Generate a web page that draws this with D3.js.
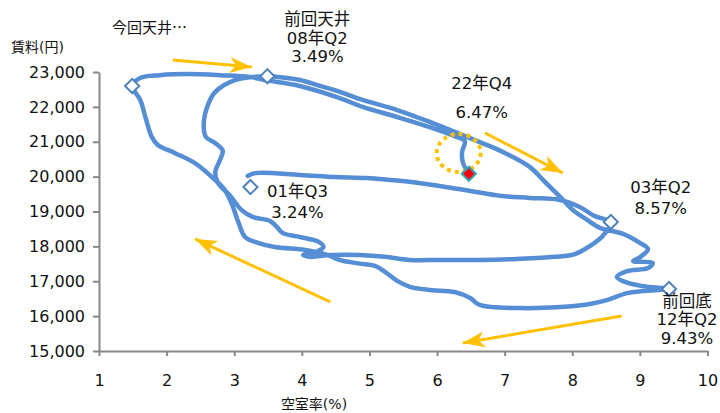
<!DOCTYPE html>
<html lang="ja">
<head>
<meta charset="utf-8">
<script src="https://d3js.org/d3.v7.min.js"></script>
<style>
body { margin: 0; background: #fff; }
svg text { font-family: "DejaVu Sans", "Noto Sans CJK JP", sans-serif; fill: #111; }
.axis path, .axis line { stroke: #888; stroke-width: 2; fill: none; }
.axis text { font-size: 16px; }
</style>
</head>
<body>
<svg id="chart" width="720" height="413"></svg>
<script>
// vacancy rate (%) and rent (yen/tsubo), quarterly from 01Q3 to 22Q4
var vac = [
  3.20, 3.31, 3.97, 4.49, 4.96, 5.45, 5.94, 6.49, 6.93, 7.37, 7.82, 8.11, 8.33, 8.57,
  8.45, 8.26, 8.04, 7.74, 7.18, 6.63, 6.04, 5.60, 5.23, 4.86, 4.42, 4.12, 4.02, 4.24,
  4.32, 4.25, 3.97, 3.72, 3.63, 3.53, 3.28, 3.11, 2.94, 2.76, 2.72, 2.79, 2.83, 2.72,
  2.58, 2.55, 2.61, 2.72, 3.01, 3.49,
  3.63, 3.97, 4.27, 4.52, 4.90, 5.41, 5.89, 6.34, 6.63, 6.97, 7.37, 7.57, 7.82, 8.01,
  8.22, 8.41, 8.75, 9.00, 9.12, 9.00, 8.90, 9.19, 9.12, 8.81, 8.66, 8.78, 9.04, 9.43,
  9.04, 8.81, 8.51, 8.26, 7.82, 7.23, 6.63, 6.49, 6.26, 5.89, 5.60, 5.41, 5.23, 5.08,
  4.81, 4.56, 4.34, 4.05, 3.60, 3.35, 3.16, 3.06, 2.97, 2.86, 2.67, 2.42, 2.12, 1.87,
  1.78, 1.69, 1.61, 1.49,
  1.61, 1.90, 2.30, 2.79, 3.23, 3.45, 3.97, 4.52, 4.90, 5.41, 5.89, 6.26, 6.41, 6.37,
  6.38, 6.47
];
var rent = [
  20020, 20100, 20050, 19990, 19960, 19880, 19760, 19590, 19450, 19390, 19330, 19130, 18870, 18680,
  18300, 18010, 17780, 17700, 17640, 17610, 17610, 17610, 17700, 17750, 17750, 17700, 17750, 17870,
  17980, 18130, 18270, 18380, 18560, 18730, 18840, 19040, 19450, 19820, 20130, 20480, 20740, 20960,
  21140, 21540, 22050, 22430, 22770, 22880,
  22860, 22770, 22600, 22460, 22200, 21910, 21570, 21220, 20990, 20710, 20280, 19900, 19420, 19040,
  18760, 18530, 18360, 18100, 17920, 17690, 17580, 17520, 17380, 17290, 17120, 16980, 16860, 16780,
  16720, 16660, 16460, 16350, 16260, 16230, 16320, 16520, 16690, 16750, 16840, 17010, 17270, 17440,
  17520, 17610, 17780, 17900, 17980, 18100, 18270, 18700, 19190, 19620, 19990, 20390, 20680, 20910,
  21140, 21680, 22200, 22600,
  22830, 22910, 22940, 22910, 22860, 22770, 22600, 22280, 22000, 21710, 21420, 21160, 21020, 20710,
  20420, 20080
];

// highlighted turning points
var markVac  = [1.49, 3.49, 3.24, 8.57, 9.43];
var markRent = [22600, 22880, 19700, 18700, 16780];
var markText = [[], ["前回天井", "08年Q2", "3.49%"], ["01年Q3", "3.24%"], ["03年Q2", "8.57%"], ["前回底", "12年Q2", "9.43%"]];
var lastText = ["22年Q4", "6.47%"];

var xTicks = [1, 2, 3, 4, 5, 6, 7, 8, 9, 10];
var yTicks = [15000, 16000, 17000, 18000, 19000, 20000, 21000, 22000, 23000];

// orange arrows (from vac/rent to vac/rent)
var arrowFrom = [[2.09, 23344], [6.71, 21251], [4.42, 16406], [8.73, 16004]];
var arrowTo   = [[3.26, 23143], [7.86, 20104], [2.42, 18212], [6.38, 15230]];

var svg = d3.select("#chart");

var x = d3.scaleLinear().domain([1, 10]).range([99, 707.5]);
var y = d3.scaleLinear().domain([15000, 23000]).range([351, 72]);

// axes
svg.append("g")
    .attr("class", "axis")
    .attr("transform", "translate(0," + y(15000) + ")")
    .call(d3.axisBottom(x).tickValues(xTicks).tickSize(5).tickSizeOuter(0).tickPadding(19).tickFormat(d3.format("d")));

svg.append("g")
    .attr("class", "axis")
    .attr("transform", "translate(" + x(1) + ",0)")
    .call(d3.axisLeft(y).tickValues(yTicks).tickSize(6).tickSizeOuter(0).tickPadding(8).tickFormat(d3.format(",")));

svg.selectAll(".axis text").style("fill", "#111");

svg.append("text").attr("x", 11).attr("y", 52).style("font-size", "14px").text("賃料(円)");
svg.append("text").attr("x", 314).attr("y", 409).attr("text-anchor", "middle").style("font-size", "14px").text("空室率(%)");
svg.append("text").attr("x", 112).attr("y", 33)
    .style("font-size", "15px")
    .style("font-family", "'Noto Sans CJK JP', sans-serif")
    .text("今回天井…");

// arrow head
svg.append("defs").append("marker")
    .attr("id", "ah")
    .attr("markerUnits", "userSpaceOnUse")
    .attr("markerWidth", 24).attr("markerHeight", 16)
    .attr("refX", 22).attr("refY", 8)
    .attr("orient", "auto")
    .append("path")
    .attr("d", "M0,0 L22,8 L0,16 L6,8 Z")
    .attr("fill", "#FFC000");

svg.selectAll(".arrow")
    .data(arrowFrom)
    .enter()
    .append("line")
    .attr("class", "arrow")
    .attr("x1", function(d) { return x(d[0]); })
    .attr("y1", function(d) { return y(d[1]); })
    .attr("x2", function(d, i) { return x(arrowTo[i][0]); })
    .attr("y2", function(d, i) { return y(arrowTo[i][1]); })
    .attr("stroke", "#FFC000")
    .attr("stroke-width", 3)
    .attr("marker-end", "url(#ah)");

// the path itself
var pts = vac.map(function(v, i) { return [x(v), y(rent[i])]; });
var line = d3.line().curve(d3.curveCatmullRom.alpha(0.5));

svg.append("path")
    .attr("d", line(pts))
    .attr("fill", "none")
    .attr("stroke", "#558ED5")
    .attr("stroke-width", 4.5)
    .attr("stroke-linejoin", "round")
    .attr("stroke-linecap", "round");

// dotted circle around the latest point
svg.append("ellipse")
    .attr("cx", x(6.32)).attr("cy", y(20678))
    .attr("rx", 22).attr("ry", 19)
    .attr("fill", "none")
    .attr("stroke", "#FFC000")
    .attr("stroke-width", 4)
    .attr("stroke-dasharray", "4 4");

// white diamonds
svg.selectAll(".mk")
    .data(markVac)
    .enter()
    .append("rect")
    .attr("class", "mk")
    .attr("x", -5).attr("y", -5)
    .attr("width", 10).attr("height", 10)
    .attr("transform", function(d, i) { return "translate(" + x(d) + "," + y(markRent[i]) + ") rotate(45)"; })
    .attr("fill", "#fff")
    .attr("stroke", "#4F81BD")
    .attr("stroke-width", 2);

// latest point
var lv = vac[vac.length - 1], lr = rent[rent.length - 1];
svg.append("rect")
    .attr("x", -5).attr("y", -5)
    .attr("width", 10).attr("height", 10)
    .attr("transform", "translate(" + x(lv) + "," + y(lr) + ") rotate(45)")
    .attr("fill", "#FF0000")
    .attr("stroke", "#31A5B8")
    .attr("stroke-width", 2);

// labels near the markers
var labelOff = [[0, 0], [50, -51], [47, 10], [50, -29], [18, 18]];
var labelGap = [0, 18.5, 21, 21, 18.5];
markText.forEach(function(lines, i) {
  lines.forEach(function(t, j) {
    svg.append("text")
        .attr("x", x(markVac[i]) + labelOff[i][0])
        .attr("y", y(markRent[i]) + labelOff[i][1] + j * labelGap[i])
        .attr("text-anchor", "middle")
        .style("font-size", "16.5px")
        .text(t);
  });
});

lastText.forEach(function(t, j) {
  svg.append("text")
      .attr("x", x(lv) + 13)
      .attr("y", y(lr) - 85 + j * 29)
      .attr("text-anchor", "middle")
      .style("font-size", "16.5px")
      .text(t);
});
</script>
</body>
</html>
